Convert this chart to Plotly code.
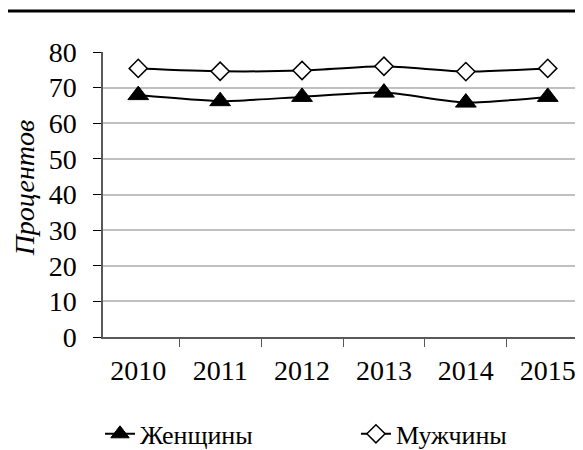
import plotly.graph_objects as go

years = ["2010", "2011", "2012", "2013", "2014", "2015"]
women = [67.9, 66.2, 67.4, 68.6, 65.8, 67.4]
men = [75.4, 74.6, 74.8, 76.0, 74.5, 75.4]
y_ticks = [0, 10, 20, 30, 40, 50, 60, 70, 80]

FONT = "Liberation Serif"

fig = go.Figure()
fig.add_trace(go.Scatter(
    x=years, y=women, name="Женщины", mode="lines+markers", legend="legend",
    line=dict(color="black", width=2, shape="spline", smoothing=0.6),
    marker=dict(symbol="triangle-up", size=18, color="black", line=dict(color="black", width=1)),
))
fig.add_trace(go.Scatter(
    x=years, y=men, name="Мужчины", mode="lines+markers", legend="legend2",
    line=dict(color="black", width=2, shape="spline", smoothing=0.6),
    marker=dict(symbol="diamond", size=14, color="white", line=dict(color="black", width=1.5)),
))

legend_style = dict(orientation="h", yanchor="middle", xanchor="left",
                    bgcolor="rgba(0,0,0,0)", font=dict(family=FONT, size=26, color="black"))

fig.update_layout(
    width=575, height=442,
    margin=dict(l=95, r=0, t=44, b=113, autoexpand=False),
    paper_bgcolor="white", plot_bgcolor="white",
    font=dict(family=FONT, size=26, color="black"),
    showlegend=True,
    legend=dict(x=-0.00625, y=-0.34, **legend_style),
    legend2=dict(x=0.527, y=-0.34, **legend_style),
    xaxis=dict(type="category", tickson="boundaries", ticks="outside", ticklen=8,
               tickcolor="#595959", showline=True, linecolor="#595959", linewidth=1.5,
               showgrid=False, tickfont=dict(family=FONT, size=28), ticklabelstandoff=8,
               automargin=False),
    yaxis=dict(range=[0, 80], tickvals=y_ticks, ticks="outside", ticklen=8,
               tickcolor="black", showline=True, linecolor="#595959", linewidth=1.5,
               showgrid=True, gridcolor="#c0c0c0", gridwidth=2, zeroline=False,
               tickfont=dict(family=FONT, size=28), ticklabelstandoff=11, automargin=False),
    annotations=[dict(text="<i>Процентов</i>", xref="paper", yref="paper", x=-0.1646, y=0.525,
                      xanchor="center", yanchor="middle", textangle=-90, showarrow=False,
                      font=dict(family=FONT, size=28, color="black"))],
    shapes=[dict(type="line", xref="paper", yref="paper", x0=-1, x1=2, y0=1.144, y1=1.144,
                 line=dict(color="black", width=3))],
)

fig.write_html("out.html")
